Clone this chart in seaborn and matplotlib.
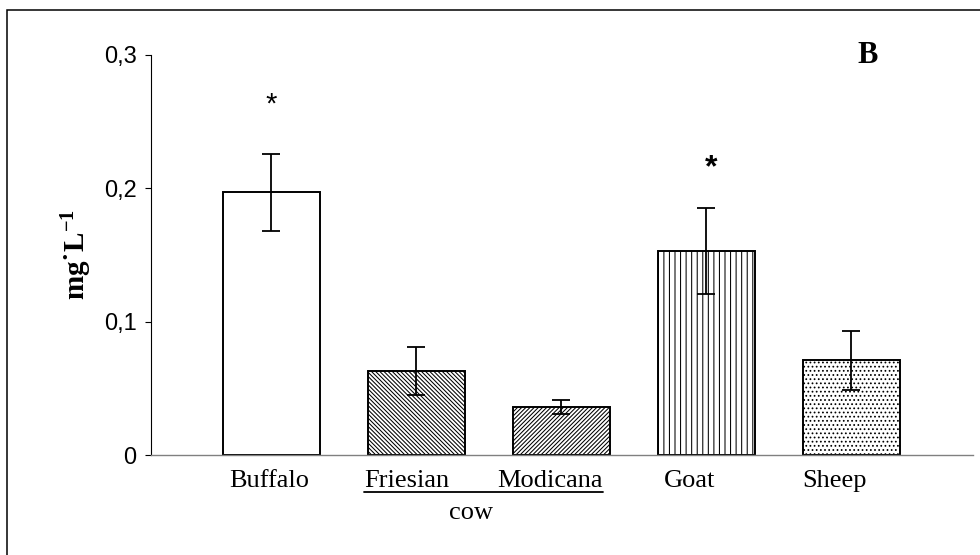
import numpy as np
import pandas as pd
import seaborn as sns
import matplotlib.pyplot as plt
from matplotlib.patches import Rectangle
from matplotlib.lines import Line2D
from matplotlib.transforms import ScaledTranslation

# Data (mg/L)
animals = ['Buffalo', 'Friesian', 'Modicana', 'Goat', 'Sheep']
means = [0.197, 0.063, 0.036, 0.153, 0.071]
errors = [0.029, 0.018, 0.005, 0.032, 0.022]
hatches = ['', '\\' * 8, '/' * 8, '|||', '....']
stars = ['*', '', '', '*', '']

sns.set_style('white')
plt.rcParams['hatch.linewidth'] = 0.75
plt.rcParams['mathtext.default'] = 'regular'
plt.rcParams['text.color'] = 'black'
plt.rcParams['axes.labelcolor'] = 'black'
plt.rcParams['xtick.color'] = 'black'
plt.rcParams['ytick.color'] = 'black'

df = pd.DataFrame({'animal': animals, 'mean': means})

fig = plt.figure(figsize=(9.8, 5.55), dpi=100)
ax = fig.add_axes([0.154, 0.180, 0.839, 0.721])

sns.barplot(data=df, x='animal', y='mean', color='white', edgecolor='black',
            linewidth=1.4, width=0.67, errorbar=None, saturation=1, ax=ax)

for patch, h in zip(ax.patches, hatches):
    patch.set_hatch(h)
    patch.set_facecolor('white')

ax.errorbar(np.arange(len(animals)), means, yerr=errors, fmt='none',
            ecolor='black', elinewidth=1.3, capsize=6.5, capthick=1.3)

# significance stars
ax.text(0, 0.263, stars[0], ha='center', va='center', fontsize=21,
        family='Liberation Sans')
ax.text(3.03, 0.215, stars[3], ha='center', va='center', fontsize=23,
        family='Liberation Sans', fontweight='bold')

ax.set_ylim(0, 0.3)
ax.set_xlim(-0.83, 4.84)
ax.set_yticks([0, 0.1, 0.2, 0.3])
ax.set_yticklabels(['0', '0,1', '0,2', '0,3'], family='Liberation Sans', fontsize=17)
ax.set_xticks(range(len(animals)))
ax.set_xticklabels(animals, family='Liberation Serif', fontsize=19)
ax.tick_params(axis='y', left=True, length=4.3, width=0.8, pad=6, color='black')
ax.tick_params(axis='x', bottom=False, pad=7.5)
ax.set_xlabel('')
ax.set_ylabel('mg˙L$^{-1}$', family='Liberation Serif', fontweight='bold',
              fontsize=21, labelpad=7)

# the labels in the original sit a little left of the bar centres
shifts = [-2, -10, -11, -17, -17]
for lab, dx in zip(ax.get_xticklabels(), shifts):
    lab.set_transform(lab.get_transform() + ScaledTranslation(dx / 100, 0, fig.dpi_scale_trans))

sns.despine(ax=ax)
ax.spines['left'].set_color('black')
ax.spines['left'].set_linewidth(0.8)
ax.spines['bottom'].set_color('#808080')
ax.spines['bottom'].set_linewidth(1.0)

ax.text(0.872, 0.998, 'B', transform=ax.transAxes, ha='center', va='center',
        family='Liberation Serif', fontweight='bold', fontsize=22)

# "cow" group label under Friesian and Modicana
fig.add_artist(Line2D([364 / 980, 603 / 980], [1 - 492 / 555, 1 - 492 / 555],
                      color='black', linewidth=1.3))
fig.text(471 / 980, 1 - 513 / 555, 'cow', ha='center', va='center',
         family='Liberation Serif', fontsize=19)

# outer frame
fig.add_artist(Rectangle((7 / 980, -0.2), 1.2, 1.2 - 10 / 555, transform=fig.transFigure,
                         fill=False, edgecolor='black', linewidth=1.1))

fig.savefig('out.png', dpi=100)
